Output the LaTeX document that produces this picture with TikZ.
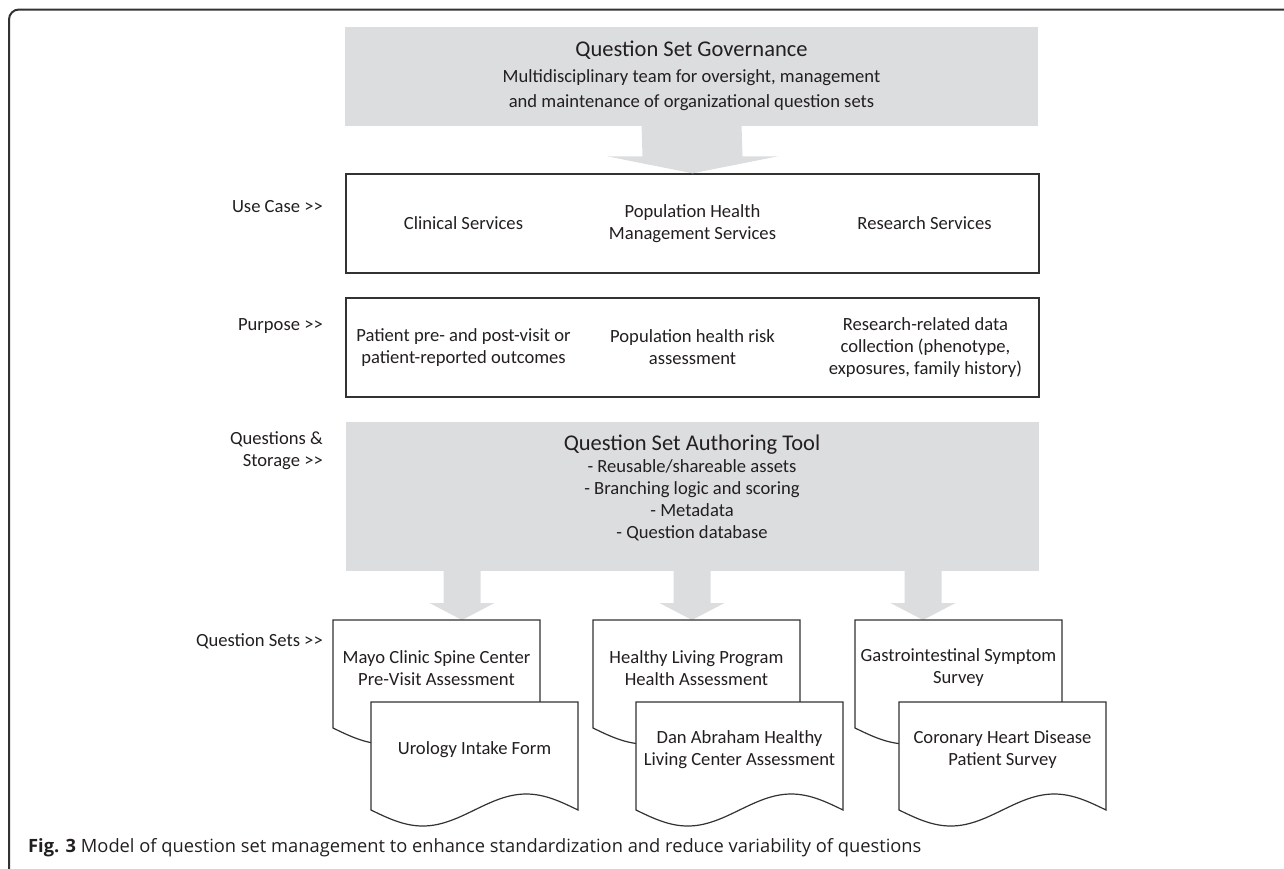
\documentclass[tikz,border=0pt]{standalone}
\usepackage{fontspec}
\setmainfont{Carlito}
\newfontfamily\capfont{Open Sans}
\usetikzlibrary{positioning, calc}

\definecolor{panelgray}{RGB}{220,221,223}
\definecolor{inkgray}{RGB}{35,31,32}
\definecolor{linegray}{RGB}{50,50,50}

% block arrow: base, tip, half shaft, half head
\newcommand{\fatarrow}[4]{%
  \fill[panelgray] ($(#1)+(-#3,-1)$) -- ($(#2)+(-#3,-17)$) -- ($(#2)+(-#4,-17)$) -- (#2)
    -- ($(#2)+(#4,-17)$) -- ($(#2)+(#3,-17)$) -- ($(#1)+(#3,-1)$) -- cycle;}

% document sheet: name, left, top, text
\newcommand{\docsheet}[4]{%
  \filldraw[sheet] (#2,#3) -- ++(207,0) -- ++(0,108)
    sin ++(-51.75,-16) cos ++(-51.75,16) sin ++(-51.75,16) cos ++(-51.75,-16) -- cycle;
  \node[body] (#1) at (#2+103.5,#3+48) {#4};}

\begin{document}
\begin{tikzpicture}[x=1pt, y=-1pt,
    panel/.style={fill=panelgray, minimum width=693, minimum height=99, inner sep=0},
    tier/.style={draw=linegray, line width=1.4, minimum width=693, minimum height=99, inner sep=0},
    body/.style={font=\fontsize{18.6}{22}\selectfont, text=inkgray, align=center, inner sep=0},
    side/.style={body, align=right, anchor=east},
    sheet/.style={draw=linegray, fill=white, line width=1.2},
    frame/.style={draw=linegray, line width=2, rounded corners=10}
  ]
  \useasboundingbox (0,0) rectangle (1284,868);
  \draw[frame] (9,900) -- (9,9.5) -- (1320,9.5);

  % governance
  \node[panel, body, font=\fontsize{18.6}{25.5}\selectfont] (gov) at (691.5,76)
    {{\fontsize{22.5}{26}\selectfont Question Set Governance}\\
     Multidisciplinary team for oversight, management\\
     and maintenance of organizational question sets};

  % use case and purpose rows
  \node[tier] (use) at (692.5,223.5) {};
  \node[body] (popmgmt) at (use.center) {Population Health\\Management Services};
  \node[body] (clinical) at ([xshift=-229pt]use.center) {Clinical Services};
  \node[body] (research) at ([xshift=232pt]use.center) {Research Services};

  \node[tier] (purpose) at (692.5,347.5) {};
  \node[body] (riskassess) at (purpose.center) {Population health risk\\assessment};
  \node[body] (patient) at ([xshift=-229pt]purpose.center) {Patient pre- and post-visit or\\patient-reported outcomes};
  \node[body] (rsdata) at ([xshift=233pt]purpose.center) {Research-related data\\collection (phenotype,\\exposures, family history)};

  % authoring tool
  \node[panel, minimum height=149] (auth) at (692,496.5) {};
  \node[body, below=13pt of auth.north] (authtext)
    {{\fontsize{22.5}{26}\selectfont Question Set Authoring Tool}\\
     - Reusable/shareable assets\\
     - Branching logic and scoring\\
     - Metadata\\
     - Question database};

  % row labels
  \node[side] (lbluse) at (323,207) {Use Case >{}>};
  \node[side] (lblpurpose) at (323,326) {Purpose >{}>};
  \node[side] (lblstore) at (323,451) {Questions \&\\Storage >{}>};
  \node[side] (lblsets) at (323,641) {Question Sets >{}>};

  % arrows
  \fatarrow{gov.south}{use.north}{50}{85.5}
  \coordinate (tipA) at (462,620);
  \coordinate (tipB) at (692,620);
  \coordinate (tipC) at (923,620);
  \foreach \t in {tipA,tipB,tipC}
    \fatarrow{auth.south -| \t}{\t}{18.5}{32.5};

  % question sets
  \docsheet{mayo}{333}{620}{Mayo Clinic Spine Center\\Pre-Visit Assessment}
  \docsheet{urology}{371}{702}{Urology Intake Form}
  \docsheet{healthy}{593}{620}{Healthy Living Program\\Health Assessment}
  \docsheet{abraham}{636}{702}{Dan Abraham Healthy\\Living Center Assessment}
  \docsheet{gastro}{855}{620}{Gastrointestinal Symptom\\Survey}
  \docsheet{coronary}{899}{702}{Coronary Heart Disease\\Patient Survey}

  \node[anchor=base west, inner sep=0, text=inkgray, font=\capfont\fontsize{18.3}{20}\selectfont] (caption) at (28,852)
    {\textbf{Fig. 3} Model of question set management to enhance standardization and reduce variability of questions};
\end{tikzpicture}
\end{document}
